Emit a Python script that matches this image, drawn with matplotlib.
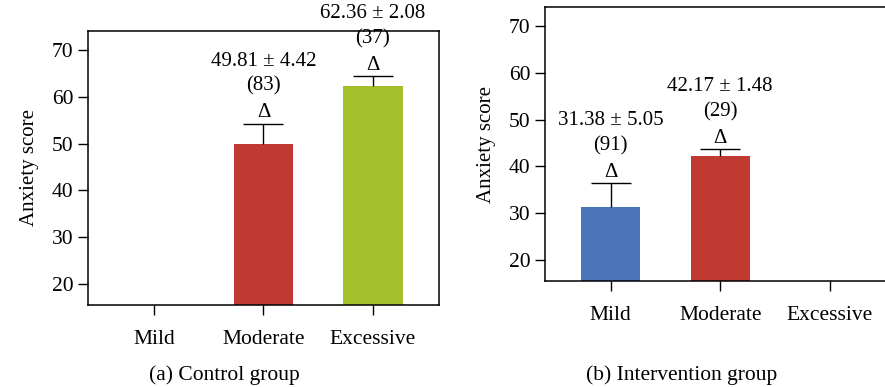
import matplotlib.pyplot as plt
import numpy as np

plt.rc('font', family=['Liberation Serif', 'DejaVu Serif'], size=15)

categories = ['Mild', 'Moderate', 'Excessive']

control_mean = [np.nan, 49.81, 62.36]
control_sd = [np.nan, 4.42, 2.08]
control_n = [None, 83, 37]

intervention_mean = [31.38, 42.17, np.nan]
intervention_sd = [5.05, 1.48, np.nan]
intervention_n = [91, 29, None]

bar_colors = ['#4A76B9', '#C03A31', '#A3C02B']
yticks = [20, 30, 40, 50, 60, 70]

fig = plt.figure(figsize=(8.85, 3.87), dpi=100)
ax_a = fig.add_axes([0.0994, 0.2119, 0.3966, 0.708])
ax_b = fig.add_axes([0.6155, 0.2739, 0.3966, 0.708])


def draw_panel(ax, means, sds, ns):
    x = np.arange(len(categories))
    means = np.array(means, dtype=float)
    sds = np.array(sds, dtype=float)
    ok = ~np.isnan(means)
    ax.bar(x[ok], means[ok], width=0.54, color=np.array(bar_colors)[ok],
           zorder=2)
    # upper error bar only
    ax.vlines(x[ok], means[ok], means[ok] + sds[ok], color='black', lw=1,
              zorder=3)
    ax.hlines(means[ok] + sds[ok], x[ok] - 0.183, x[ok] + 0.183,
              color='black', lw=1, zorder=3)
    for xi, m, s, n in zip(x[ok], means[ok], sds[ok], np.array(ns)[ok]):
        top = m + s
        ax.annotate('Δ', (xi, top), xytext=(0, 1), textcoords='offset points',
                    ha='center', va='bottom', fontsize=15,
                    annotation_clip=False)
        ax.annotate(f'({n})', (xi, top), xytext=(0, 27),
                    textcoords='offset points', ha='center', va='center',
                    annotation_clip=False)
        ax.annotate(f'{m:.2f} ± {s:.2f}', (xi, top), xytext=(0, 45),
                    textcoords='offset points', ha='center', va='center',
                    annotation_clip=False)
    ax.set_xlim(-0.603, 2.603)
    ax.set_ylim(15.5, 74.06)
    ax.set_yticks(yticks)
    ax.set_xticks(x)
    ax.set_xticklabels(categories)
    ax.tick_params(axis='both', direction='out', length=7, width=1,
                   colors='black', labelsize=15.5)
    ax.tick_params(axis='x', pad=11)
    ax.set_ylabel('Anxiety score', fontsize=15, labelpad=9)
    for sp in ax.spines.values():
        sp.set_linewidth(1.1)


draw_panel(ax_a, control_mean, control_sd, control_n)
draw_panel(ax_b, intervention_mean, intervention_sd, intervention_n)

fig.text(0.254, 1 - 375 / 387, '(a) Control group', ha='center',
         va='center', fontsize=15.5)
fig.text(0.770, 1 - 375 / 387, '(b) Intervention group', ha='center',
         va='center', fontsize=15.5)

fig.savefig('out.png', dpi=100)
